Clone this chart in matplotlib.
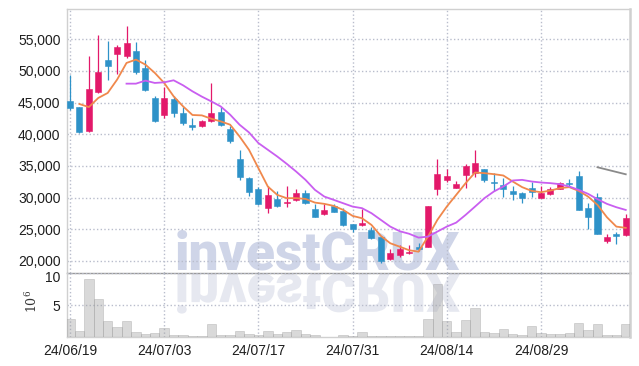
import numpy as np
import matplotlib.pyplot as plt
from matplotlib import font_manager as fm
from matplotlib.textpath import TextPath
from matplotlib.patches import PathPatch
from matplotlib.font_manager import FontProperties
from matplotlib.transforms import Affine2D, ScaledTranslation
from matplotlib.ticker import FuncFormatter

plt.rcParams['mathtext.fontset'] = 'dejavuserif'

# trading days (24/08/15 is a holiday)
dates = ["24/06/19", "24/06/20", "24/06/21", "24/06/24", "24/06/25", "24/06/26", "24/06/27", "24/06/28",
         "24/07/01", "24/07/02", "24/07/03", "24/07/04", "24/07/05", "24/07/08", "24/07/09", "24/07/10",
         "24/07/11", "24/07/12", "24/07/15", "24/07/16", "24/07/17", "24/07/18", "24/07/19", "24/07/22",
         "24/07/23", "24/07/24", "24/07/25", "24/07/26", "24/07/29", "24/07/30", "24/07/31", "24/08/01",
         "24/08/02", "24/08/05", "24/08/06", "24/08/07", "24/08/08", "24/08/09", "24/08/12", "24/08/13",
         "24/08/14", "24/08/16", "24/08/19", "24/08/20", "24/08/21", "24/08/22", "24/08/23", "24/08/26",
         "24/08/27", "24/08/28", "24/08/29", "24/08/30", "24/09/02", "24/09/03", "24/09/04", "24/09/05",
         "24/09/06", "24/09/09", "24/09/10", "24/09/11"]

opens = [45300, 44300, 40600, 46630, 51660, 52700, 52330, 53220, 50530, 45680,
         42990, 45630, 43410, 41520, 41250, 42040, 43570, 40880, 36140, 33130,
         31390, 28430, 29760, 29120, 29600, 30710, 28180, 27390, 28650, 27960,
         25800, 25740, 24900, 23850, 20320, 20950, 21270, 22220, 22260, 31440,
         32810, 31600, 33500, 33870, 34500, 32540, 32020, 31070, 30710, 31550,
         30020, 30550, 31440, 32290, 33450, 28390, 30170, 23210, 24220, 24110]
highs = [49300, 44300, 52300, 55750, 54770, 54060, 57150, 54620, 51800, 46100,
         47480, 46000, 44300, 42580, 42300, 48110, 44300, 41250, 37450, 33340,
         31660, 31910, 31120, 31800, 31390, 31230, 29020, 29020, 29020, 28400,
         25900, 28180, 25300, 23900, 21900, 22530, 22530, 22800, 28700, 36090,
         34500, 32700, 35300, 37450, 34600, 33870, 33080, 31860, 30900, 32450,
         31860, 31760, 32540, 32900, 34250, 29120, 30700, 24220, 24630, 27380]
lows = [43800, 40200, 40300, 46500, 48530, 49550, 52000, 49500, 46800, 41900,
        42580, 42730, 41500, 40610, 41100, 41900, 41300, 38620, 32810, 30280,
        28800, 27550, 28600, 28590, 29400, 29000, 26900, 27300, 27700, 25600,
        24600, 25600, 23500, 19630, 20100, 20700, 21100, 21600, 22200, 30440,
        32400, 31500, 31500, 33300, 32540, 31000, 30170, 29650, 29220, 30170,
        29900, 30400, 31300, 31760, 28050, 25050, 24210, 22900, 22640, 24000]
closes = [44100, 40300, 47160, 49850, 50750, 53800, 54400, 49800, 46940, 42040,
          45790, 43300, 41720, 41200, 42150, 43360, 41400, 38870, 33340, 30920,
          29060, 30390, 28750, 29390, 30710, 29120, 27010, 28070, 27800, 25740,
          25060, 26060, 23690, 20050, 21220, 21900, 21420, 21950, 28700, 33760,
          33450, 32180, 35030, 35450, 32810, 32390, 31440, 30650, 30010, 30920,
          30810, 31440, 32290, 32200, 28050, 27000, 24210, 23850, 23900, 26740]

nan = np.nan
ma_short = [nan, 44790, 44300, 45740, 46530, 48640, 51270, 51800, 51010, 49700,
            48110, 46000, 44420, 43050, 42990, 42460, 42040, 41520, 39660, 37560,
            34660, 31760, 30440, 29920, 29920, 29800, 29220, 29020, 28700, 28070,
            27120, 26750, 25700, 23960, 22800, 22260, 21700, 21470, 23850, 26490,
            28590, 30440, 32290, 33970, 33870, 33710, 33500, 32550, 31660, 31070,
            30860, 31120, 31500, 31660, 31070, 30170, 28860, 26910, 25430, 25230]
ma_mid = [nan, nan, nan, nan, nan, nan, 48000, 48000, 48480, 48110,
          48210, 48530, 47740, 46790, 45950, 45200, 44400, 43100, 41520, 40300,
          38620, 37560, 36500, 35350, 34130, 32810, 31230, 30170, 29650, 29120,
          28590, 28340, 27550, 26490, 25430, 24700, 24300, 23690, 23850, 24640,
          25430, 26060, 27280, 28590, 29920, 30970, 31760, 32710, 32810, 32550,
          32390, 32290, 32130, 31760, 31230, 30600, 29760, 29020, 28490, 28060]
ma_long = [nan] * 56 + [34800, 34430, 34060, 33690]

volume = [2.8, 0.97, 9.07, 6.0, 2.5, 1.54, 2.6, 0.77, 0.5, 0.66,
          1.38, 0.3, 0.3, 0.15, 0.15, 2.0, 0.3, 0.35, 0.97, 0.5,
          0.3, 0.97, 0.5, 0.82, 1.12, 0.5, 0.3, 0.1, 0.1, 0.3,
          0.15, 0.77, 0.2, 0.2, 0.15, 0.15, 0.15, 0.2, 2.9, 8.3,
          2.5, 0.82, 2.66, 4.46, 0.82, 0.66, 1.23, 0.5, 0.3, 1.69,
          0.72, 0.5, 0.5, 0.66, 2.2, 1.12, 2.05, 0.3, 0.3, 2.05]
volume = np.array(volume) * 1e6

price_ticks = [20000, 25000, 30000, 35000, 40000, 45000, 50000, 55000]
date_ticks = [0, 10, 20, 30, 40, 50]
watermark = 'investCRUX'

UP = '#e3196a'
DOWN = '#2e92c8'
GRID = '#b9bdcc'
TXT = '#1e1e1e'

# narrow font for the tick labels if one is installed
names = {f.name for f in fm.fontManager.ttflist}
if 'Liberation Sans Narrow' in names:
    tick_font, tick_size = 'Liberation Sans Narrow', 11.5
else:
    tick_font, tick_size = 'Liberation Sans', 10

x = np.arange(len(dates))
o = np.array(opens); c = np.array(closes)
h = np.array(highs); l = np.array(lows)
up = c >= o
cols = np.where(up, UP, DOWN)

fig = plt.figure(figsize=(6.39, 3.66), dpi=100)
fig.patch.set_facecolor('white')
ax = fig.add_axes([0.1044, 0.2549, 0.8815, 0.7197])
axv = fig.add_axes([0.1044, 0.0784, 0.8815, 0.1765], sharex=ax)
for a in (ax, axv):
    a.set_facecolor('none')
    a.set_zorder(2)

# watermark with its reflection, behind the marks
fp = FontProperties(family='Roboto', weight='black')
tp = TextPath((0, 0), watermark, size=100, prop=fp)
bb = tp.get_extents()
wm_px = 100 * 283 / bb.width
fig.text(1.77 / 6.39 - bb.xmin * wm_px / 100 / 639, 96 / 366, watermark, fontproperties=fp,
         fontsize=wm_px * 0.72, color='#cfd5e8', ha='left', va='baseline', zorder=1)
t_refl = (Affine2D().translate(-bb.xmin, 0).scale(wm_px / 100 / 100, -wm_px / 100 / 100)
          .translate(1.77, 0.92) + fig.dpi_scale_trans)
fig.add_artist(PathPatch(tp, transform=t_refl, facecolor='#e6e8f0', edgecolor='none', zorder=1))

# candles
ax.vlines(x, l, h, colors=cols, linewidth=0.9, zorder=3)
body = np.maximum(np.abs(c - o), 160)
ax.bar(x, body, bottom=np.minimum(o, c), width=0.64, color=cols, edgecolor=cols,
       linewidth=0.4, zorder=4)

ax.plot(x, ma_short, color='#f0884c', linewidth=1.3, zorder=5)
ax.plot(x, ma_mid, color='#c95ef0', linewidth=1.3, zorder=5)
ax.plot(x, ma_long, color='#8a8a8a', linewidth=1.3, zorder=5)

ax.set_xlim(-0.35, 59.45)
ax.set_ylim(18150, 59740)
ax.set_yticks(price_ticks)
ax.yaxis.set_major_formatter(FuncFormatter(lambda v, p: f'{int(v):,}'))
ax.set_xticks(date_ticks)
ax.tick_params(axis='x', labelbottom=False, length=0)
ax.tick_params(axis='y', length=0, pad=4.5, labelsize=tick_size, labelcolor=TXT)
ax.grid(True, color=GRID, linestyle=':', linewidth=1)

# volume
axv.bar(x, volume / 1e6, width=1.0, color='#a0a0a0', alpha=0.4, edgecolor='#9a9a9a',
        linewidth=0.6, zorder=3)
axv.set_ylim(0, 10)
axv.set_yticks([5, 10])
axv.set_xticks(date_ticks)
axv.set_xticklabels([dates[i] for i in date_ticks])
axv.tick_params(axis='x', length=0, pad=4.5, labelsize=tick_size, labelcolor=TXT)
axv.tick_params(axis='y', length=0, pad=4.5, labelsize=tick_size, labelcolor=TXT)
axv.grid(True, color=GRID, linestyle=':', linewidth=1)

for lab in ax.get_yticklabels() + axv.get_yticklabels() + axv.get_xticklabels():
    lab.set_family(tick_font)

# the "10" volume label hangs just under the panel edge, clear of "20,000"
fig.canvas.draw()
top_lab = axv.get_yticklabels()[-1]
top_lab.set_va('top')
top_lab.set_transform(top_lab.get_transform() + ScaledTranslation(0, 1.5 / 72, fig.dpi_scale_trans))

for a in (ax, axv):
    for s in ('top', 'left', 'right', 'bottom'):
        a.spines[s].set_color('#d0d0d0')
        a.spines[s].set_linewidth(1)
ax.spines['right'].set_linewidth(1.8)
axv.spines['right'].set_linewidth(1.8)
ax.spines['bottom'].set_color('#9a9a9a')
axv.spines['top'].set_visible(False)

fig.text(31.7 / 639, 1 - 301.7 / 366, r'$10^{6}$', rotation=90, ha='center', va='center',
         fontsize=9, color='#333333')

fig.savefig('out.png', dpi=100)
